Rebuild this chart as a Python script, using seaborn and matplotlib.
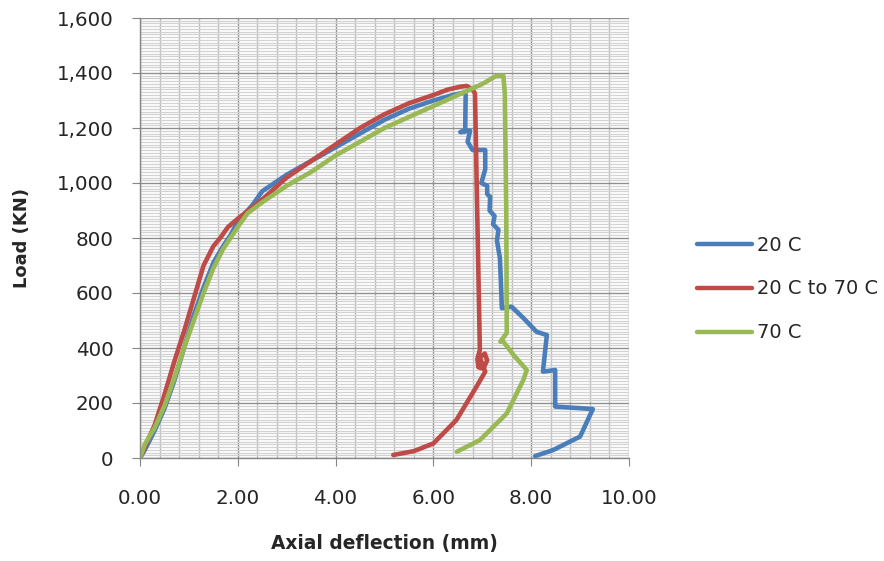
import matplotlib
matplotlib.use("Agg")
import matplotlib.pyplot as plt
import matplotlib.ticker as mticker
import seaborn as sns
import pandas as pd

# ---- data ----
x_20 = [0.00, 0.10, 0.30, 0.50, 0.70, 0.90, 1.10, 1.30, 1.50, 1.70, 1.85, 2.00, 2.30, 2.50,
        3.00, 3.50, 4.00, 4.50, 5.00, 5.50, 6.00, 6.40, 6.65,
        6.66, 6.65, 6.55, 6.75, 6.70, 6.80, 7.06, 7.06, 6.98, 7.10, 7.10, 7.16, 7.15,
        7.25, 7.22, 7.33, 7.30, 7.36, 7.38, 7.40,
        7.60, 7.84, 8.11, 8.32, 8.24, 8.49, 8.49, 9.26, 9.00, 8.45, 8.08]
y_20 = [0, 30, 100, 180, 280, 400, 520, 620, 710, 770, 810, 860, 920, 970,
        1030, 1080, 1130, 1180, 1230, 1270, 1300, 1320, 1330,
        1320, 1190, 1185, 1190, 1150, 1120, 1120, 1050, 1000, 990, 960, 950, 900,
        880, 850, 830, 790, 727, 640, 545,
        550, 509, 459, 447, 314, 320, 187, 178, 78, 29, 7]

x_2070 = [0.00, 0.10, 0.30, 0.50, 0.70, 0.90, 1.10, 1.30, 1.50, 1.64, 1.80, 2.00, 2.50,
          3.00, 3.50, 4.00, 4.50, 5.00, 5.50, 6.00, 6.30, 6.55, 6.68, 6.80, 6.85,
          6.90, 6.95, 6.90, 6.92, 7.02, 7.10, 7.05, 6.95, 7.06, 6.88, 6.47, 6.00, 5.60, 5.18]
y_2070 = [0, 40, 120, 230, 350, 460, 580, 700, 770, 800, 840, 870, 940,
          1020, 1080, 1140, 1200, 1250, 1290, 1320, 1340, 1350, 1353, 1340, 1326,
          860, 393, 360, 330, 325, 355, 380, 365, 314, 259, 138, 53, 25, 11]

x_70 = [0.00, 0.10, 0.30, 0.50, 0.70, 0.90, 1.10, 1.30, 1.50, 1.70, 2.00, 2.20, 2.50,
        3.00, 3.50, 4.00, 4.50, 5.00, 5.50, 6.00, 6.50, 7.00, 7.29, 7.43,
        7.46, 7.49, 7.50, 7.37, 7.43, 7.67, 7.91, 7.84, 7.50, 6.95, 6.48]
y_70 = [0, 50, 110, 190, 290, 400, 500, 600, 690, 760, 840, 890, 930,
        990, 1040, 1100, 1150, 1200, 1240, 1280, 1320, 1360, 1390, 1390,
        1327, 900, 455, 423, 423, 368, 320, 284, 162, 65, 23]

series_names = ["20 C", "20 C to 70 C", "70 C"]
series_colors = ["#4A7EBB", "#BE4B48", "#98B954"]
x_ticks = [0, 2, 4, 6, 8, 10]
y_ticks = [0, 200, 400, 600, 800, 1000, 1200, 1400, 1600]

frames = []
for name, xs, ys in zip(series_names, [x_20, x_2070, x_70], [y_20, y_2070, y_70]):
    frames.append(pd.DataFrame({"x": xs, "y": ys, "series": name}))
df = pd.concat(frames, ignore_index=True)

sns.set_style("white")
plt.rcParams["font.family"] = ["DejaVu Sans"]

fig = plt.figure(figsize=(8.84, 5.61), dpi=100)
ax = fig.add_axes([140 / 884, 1 - 458 / 561, (629 - 140) / 884, (458 - 18) / 561])

ax.set_xlim(0, 10)
ax.set_ylim(0, 1600)
ax.xaxis.set_major_locator(mticker.FixedLocator(x_ticks))
ax.yaxis.set_major_locator(mticker.FixedLocator(y_ticks))
ax.xaxis.set_minor_locator(mticker.MultipleLocator(0.4))
ax.yaxis.set_minor_locator(mticker.MultipleLocator(10))
ax.grid(which="minor", axis="y", color="#d2d2d2", linewidth=0.9)
ax.grid(which="minor", axis="x", color="#bdbdbd", linewidth=1.0)
ax.grid(which="major", axis="both", color="#8f8f8f", linewidth=1.0)
ax.set_axisbelow(True)

for name, color in zip(series_names, series_colors):
    sub = df[df["series"] == name]
    sns.lineplot(data=sub, x="x", y="y", sort=False, estimator=None, color=color,
                 linewidth=3.3, ax=ax, label=name, solid_capstyle="round",
                 solid_joinstyle="round")

for s in ["top", "right"]:
    ax.spines[s].set_visible(False)
for s in ["left", "bottom"]:
    ax.spines[s].set_color("#868686")
    ax.spines[s].set_linewidth(1.0)

ax.tick_params(axis="both", which="major", direction="out", length=6, color="#868686",
               labelsize=14.3, left=True, bottom=True)
ax.tick_params(axis="y", pad=13)
ax.tick_params(axis="x", pad=16)
ax.tick_params(axis="both", which="minor", length=0)
ax.xaxis.set_major_formatter(mticker.FuncFormatter(lambda v, p: f"{v:.2f}"))
ax.yaxis.set_major_formatter(mticker.FuncFormatter(lambda v, p: f"{int(v):,}"))

ax.set_xlabel("Axial deflection (mm)", fontsize=13.4, fontweight="bold")
ax.set_ylabel("Load (KN)", fontsize=13, fontweight="bold")
ax.xaxis.set_label_coords(0.5, -0.172)
ax.yaxis.set_label_coords(-0.222, 0.5)

ax.get_legend().remove()
handles, labels = ax.get_legend_handles_labels()
leg = fig.legend(handles, labels, loc="center left", bbox_to_anchor=(697 / 884, 1 - 289 / 561),
                 frameon=False, fontsize=14, handlelength=2.83, handletextpad=0.26,
                 labelspacing=1.28, borderpad=0, borderaxespad=0)
for h in leg.get_lines():
    h.set_linewidth(3.2)

fig.savefig("out.png", dpi=100)
